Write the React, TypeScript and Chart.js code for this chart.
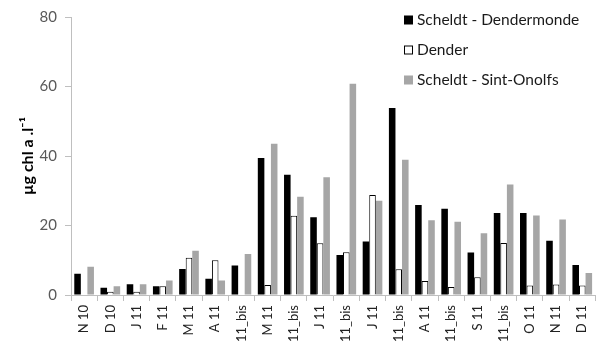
import React, { useEffect, useRef } from "react";
import { Chart, registerables } from "chart.js";

Chart.register(...registerables);

const categories = [
  "N 10", "D 10", "J 11", "F 11", "M 11", "A 11", "11_bis", "M 11", "11_bis", "J 11",
  "11_bis", "J 11", "11_bis", "A 11", "11_bis", "S 11", "11_bis", "O 11", "N 11", "D 11",
];
const scheldtDendermonde = [6.1, 2.1, 3.1, 2.5, 7.5, 4.7, 8.5, 39.4, 34.6, 22.4, 11.5, 15.4, 53.8, 25.9, 24.8, 12.2, 23.6, 23.6, 15.6, 8.6];
const dender = [0, 0.9, 0.9, 2.5, 10.7, 10.0, 0, 2.9, 22.8, 14.9, 12.3, 28.8, 7.4, 4.0, 2.3, 5.1, 15.0, 2.7, 3.0, 2.7];
const scheldtSintOnolfs = [8.1, 2.5, 3.1, 4.2, 12.7, 4.2, 11.8, 43.5, 28.3, 33.9, 60.8, 27.1, 38.9, 21.5, 21.1, 17.8, 31.8, 22.9, 21.7, 6.3];
const yTicks = [0, 20, 40, 60, 80];

const FONT = "Lato, 'Open Sans', sans-serif";

const legendPlugin = {
  id: "insideLegend",
  afterDraw(chart: any) {
    const ctx = chart.ctx;
    ctx.save();
    ctx.font = `15.5px ${FONT}`;
    ctx.textBaseline = "middle";
    const x = 404;
    const ys = [20, 50, 80];
    chart.data.datasets.forEach((ds: any, i: number) => {
      const y = ys[i];
      ctx.fillStyle = ds.backgroundColor;
      ctx.fillRect(x, y - 4.5, 9, 9);
      if (ds.borderWidth) {
        ctx.strokeStyle = ds.borderColor;
        ctx.lineWidth = 1;
        ctx.strokeRect(x + 0.5, y - 4.5 + 0.5, 8, 8);
      }
      ctx.fillStyle = "#1a1a1a";
      ctx.textAlign = "left";
      ctx.fillText(ds.label, x + 13, y);
    });
    ctx.restore();
  },
};

export default function App() {
  const ref = useRef<HTMLCanvasElement | null>(null);
  useEffect(() => {
    document.body.style.margin = "0";
    const chart = new Chart(ref.current as HTMLCanvasElement, {
      type: "bar",
      data: {
        labels: categories,
        datasets: [
          { label: "Scheldt - Dendermonde", data: scheldtDendermonde, backgroundColor: "#000000", borderWidth: 0 },
          { label: "Dender", data: dender, backgroundColor: "#ffffff", borderColor: "#000000", borderWidth: 1 },
          { label: "Scheldt - Sint-Onolfs", data: scheldtSintOnolfs, backgroundColor: "#a6a6a6", borderWidth: 0 },
        ],
      },
      options: {
        animation: false,
        responsive: false,
        layout: { padding: { top: 10, right: 5, bottom: 0, left: 0 } },
        datasets: { bar: { categoryPercentage: 0.75, barPercentage: 1 } },
        plugins: { legend: { display: false }, tooltip: { enabled: false } },
        scales: {
          x: {
            afterFit: (s: any) => { s.height = 55; },
            grid: { display: true, drawOnChartArea: false, offset: true, color: "#bfbfbf", tickLength: 6 },
            border: { color: "#bfbfbf" },
            ticks: { minRotation: 90, maxRotation: 90, autoSkip: false, color: "#222", font: { family: FONT, size: 13 }, padding: 4 },
          },
          y: {
            min: 0,
            max: 80,
            afterFit: (s: any) => { s.width = 71; },
            afterBuildTicks: (s: any) => { s.ticks = yTicks.map((v) => ({ value: v })); },
            grid: { display: true, drawOnChartArea: false, color: "#bfbfbf", tickLength: 6 },
            border: { color: "#bfbfbf" },
            ticks: { color: "#595959", font: { family: FONT, size: 15 }, padding: 8 },
            title: {
              display: true,
              text: "µg chl a .l⁻¹",
              color: "#000",
              font: { family: FONT, size: 16, weight: "bold" },
              padding: { top: 18, bottom: 0 },
            },
          },
        },
      },
      plugins: [legendPlugin],
    });
    return () => chart.destroy();
  }, []);
  return (
    <div style={{ position: "absolute", left: 0, top: 0, width: 602, height: 350, background: "#fff" }}>
      <canvas ref={ref} width={602} height={350} />
    </div>
  );
}
